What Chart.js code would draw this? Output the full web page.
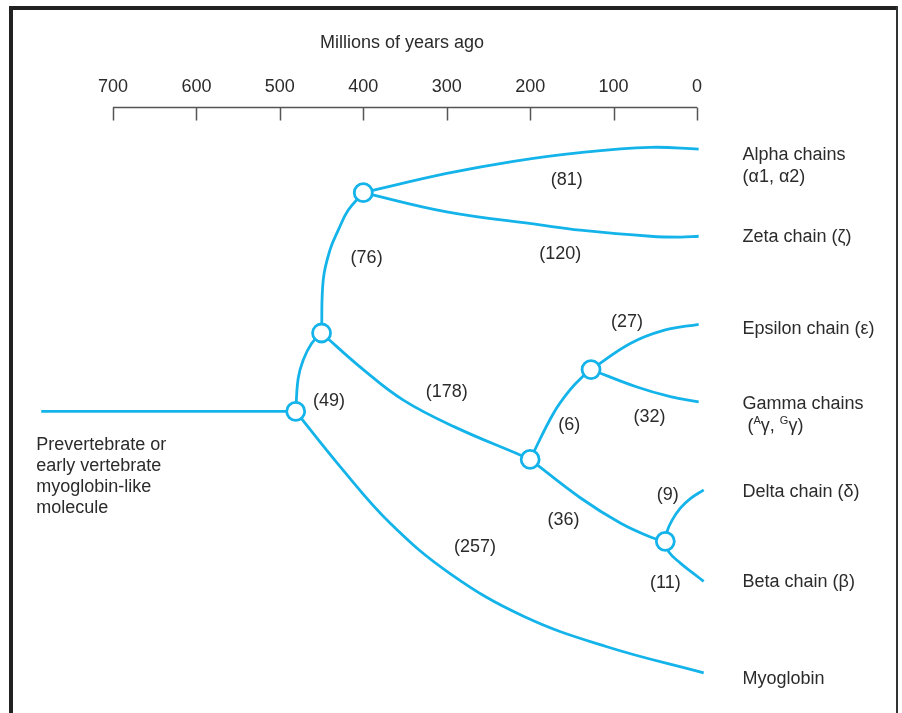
<!DOCTYPE html>
<html>
<head>
<meta charset="utf-8">
<script src="https://cdn.jsdelivr.net/npm/chart.js@4.4.1/dist/chart.umd.min.js"></script>
<style>
  html, body { margin: 0; padding: 0; background: #fff; }
  #arbol { display: block; }
</style>
</head>
<body>
<canvas id="arbol" width="902" height="713"></canvas>
<script>
// Time axis (millions of years ago)
const tickValues = [700, 600, 500, 400, 300, 200, 100, 0];
const axisTitle = "Millions of years ago";

// Branches: [millions of years ago, row]
const stem = [[786, 3.0], [481, 3.0]];
const rootToN2 = [[481, 3.0], [478, 2.62], [472, 2.41], [462, 2.22], [450, 2.10]];
const n2ToAZ = [[450, 2.10], [448, 1.49], [440, 1.15], [430, 0.92], [418, 0.69], [400, 0.49]];
const alphaBranch = [[400, 0.49], [300, 0.27], [220, 0.13], [140, 0.03], [56, -0.03], [-2, -0.01]];
const zetaBranch = [[400, 0.49], [300, 0.71], [188, 0.86], [140, 0.92], [56, 0.99], [20, 1.0], [-2, 0.99]];
const n2ToN200 = [[450, 2.10], [400, 2.52], [352, 2.87], [290, 3.18], [212, 3.50], [200, 3.55]];
const myoBranch = [[481, 3.0], [428, 3.63], [368, 4.28], [296, 4.86], [208, 5.35], [108, 5.70], [-8, 6.0]];
const n200ToEG = [[200, 3.55], [172, 3.02], [152, 2.75], [137, 2.60], [127, 2.52]];
const epsBranch = [[127, 2.52], [80, 2.22], [40, 2.07], [-2, 2.0]];
const gammaBranch = [[127, 2.52], [72, 2.72], [32, 2.83], [-2, 2.89]];
const n200ToDB = [[200, 3.55], [140, 3.99], [92, 4.28], [56, 4.44], [38, 4.49]];
const deltaBranch = [[38, 4.49], [36, 4.38], [30, 4.25], [20, 4.11], [8, 4.0], [-8, 3.90]];
const betaBranch = [[38, 4.49], [34, 4.61], [20, 4.74], [4, 4.86], [-8, 4.95]];

// Branching points (gene duplications)
const nodeAges = [481, 450, 400, 200, 127, 38];
const nodeRows = [3.0, 2.10, 0.49, 3.55, 2.52, 4.49];

// Amino acid differences on each branch
const branchCounts = ["(81)", "(120)", "(76)", "(49)", "(178)", "(27)", "(6)", "(32)", "(9)", "(36)", "(11)", "(257)"];
const countAges = [156, 164, 396, 441, 300, 84, 153, 57, 35, 160, 38, 266];
const countRows = [0.34, 1.19, 1.24, 2.88, 2.78, 1.97, 3.16, 3.06, 3.96, 4.25, 4.97, 4.55];

// Leaf names ("^" marks a superscript letter)
const leafNames = [
    ["Alpha chains", "(α1, α2)"],
    ["Zeta chain (ζ)"],
    ["Epsilon chain (ε)"],
    ["Gamma chains", " (^Aγ, ^Gγ)"],
    ["Delta chain (δ)"],
    ["Beta chain (β)"],
    ["Myoglobin"],
];
const leafRows = [0.06, 1.0, 2.06, 2.91, 3.92, 4.96, 6.07];
const rootLabel = ["Prevertebrate or", "early vertebrate", "myoglobin-like", "molecule"];

const cian = "#14b4ea";
const textColor = "#2b2b2b";
const font = "18px 'Liberation Sans', Arial, sans-serif";
const axisRow = -0.49;

const branches = [stem, rootToN2, n2ToAZ, alphaBranch, zetaBranch, n2ToN200, myoBranch,
    n200ToEG, epsBranch, gammaBranch, n200ToDB, deltaBranch, betaBranch];

const datasets = branches.map(function (b) {
    return {
        type: "line",
        data: b.map(p => ({ x: p[0], y: p[1] })),
        borderColor: cian,
        borderWidth: 2.8,
        pointRadius: 0,
        tension: 0.4,
        fill: false,
        order: 1,
    };
});

datasets.push({
    type: "scatter",
    data: nodeAges.map((a, i) => ({ x: a, y: nodeRows[i] })),
    pointRadius: 9,
    pointBackgroundColor: "#ffffff",
    pointBorderColor: cian,
    pointBorderWidth: 2.8,
    showLine: false,
    order: 0,
});

// text with small raised letters after "^"
function drawRich(ctx, str, x, y) {
    let cx = x;
    for (let i = 0; i < str.length; i++) {
        if (str[i] === "^") {
            ctx.font = "11px 'Liberation Sans', Arial, sans-serif";
            ctx.fillText(str[i + 1], cx, y - 5);
            cx += ctx.measureText(str[i + 1]).width;
            i++;
            ctx.font = font;
        } else {
            ctx.fillText(str[i], cx, y);
            cx += ctx.measureText(str[i]).width;
        }
    }
}

const decor = {
    id: "decor",
    afterDraw(chart) {
        const ctx = chart.ctx;
        const xs = chart.scales.x;
        const ys = chart.scales.y;
        ctx.save();

        // frame
        ctx.fillStyle = "#222";
        ctx.fillRect(9, 6, 4, 707);
        ctx.fillRect(9, 6, 889, 4);
        ctx.fillStyle = "#333";
        ctx.fillRect(896, 6, 2, 707);

        // time axis
        const axisY = Math.round(ys.getPixelForValue(axisRow)) + 0.5;
        ctx.strokeStyle = "#555";
        ctx.lineWidth = 1.5;
        ctx.beginPath();
        ctx.moveTo(xs.getPixelForValue(tickValues[0]), axisY);
        ctx.lineTo(xs.getPixelForValue(tickValues[tickValues.length - 1]), axisY);
        tickValues.forEach(function (t) {
            const px = Math.round(xs.getPixelForValue(t)) + 0.5;
            ctx.moveTo(px, axisY);
            ctx.lineTo(px, axisY + 13);
        });
        ctx.stroke();

        ctx.fillStyle = textColor;
        ctx.font = font;
        ctx.textAlign = "center";
        ctx.textBaseline = "middle";
        tickValues.forEach(function (t) {
            ctx.fillText(String(t), xs.getPixelForValue(t), axisY - 20);
        });
        const mid = (xs.getPixelForValue(tickValues[0]) + xs.getPixelForValue(0)) / 2;
        ctx.fillText(axisTitle, mid - 3, axisY - 64);

        // amino acid differences
        branchCounts.forEach(function (c, i) {
            ctx.fillText(c, xs.getPixelForValue(countAges[i]), ys.getPixelForValue(countRows[i]));
        });

        // leaf names
        ctx.textAlign = "left";
        const leafX = xs.getPixelForValue(0) + 45.5;
        leafNames.forEach(function (lines, i) {
            const y0 = ys.getPixelForValue(leafRows[i]);
            lines.forEach(function (line, j) {
                drawRich(ctx, line, leafX, y0 + j * 22);
            });
        });

        // ancestral molecule
        const rx = xs.getPixelForValue(stem[0][0]) - 5;
        const ry = ys.getPixelForValue(nodeRows[0]) + 34;
        rootLabel.forEach(function (line, j) {
            ctx.fillText(line, rx, ry + j * 21);
        });

        ctx.restore();
    },
};

new Chart(document.getElementById("arbol").getContext("2d"), {
    data: { datasets: datasets },
    options: {
        responsive: false,
        animation: false,
        events: [],
        layout: {
            autoPadding: false,
            padding: { left: 37.9, right: 188.3, top: 19.2, bottom: 5.2 },
        },
        scales: {
            x: { type: "linear", min: -20, max: 790, reverse: true, display: false },
            y: { type: "linear", min: -1.5, max: 6.4, reverse: true, display: false },
        },
        plugins: {
            legend: { display: false },
            tooltip: { enabled: false },
        },
    },
    plugins: [decor],
});
</script>
</body>
</html>
